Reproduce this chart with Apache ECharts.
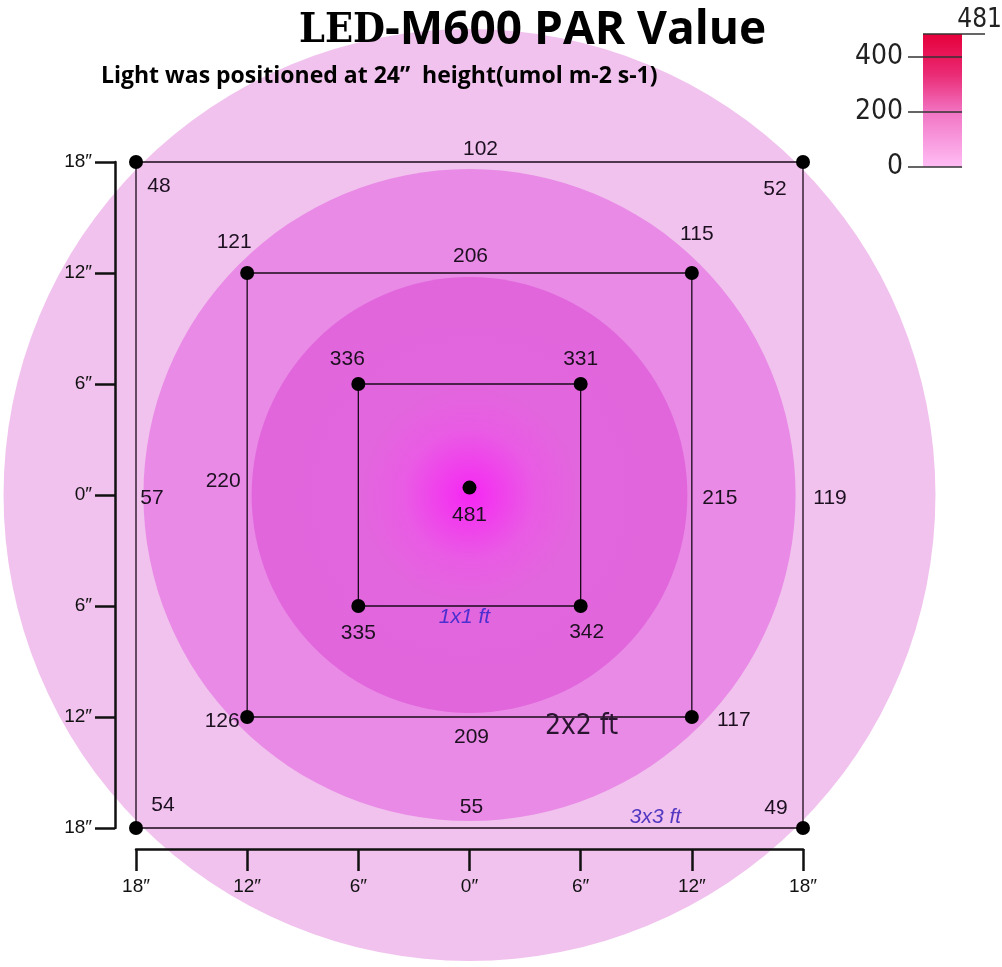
<!DOCTYPE html>
<html>
<head>
<meta charset="utf-8">
<script src="https://cdn.jsdelivr.net/npm/echarts@6/dist/echarts.min.js"></script>
<style>
	html, body { margin: 0; padding: 0; background: #fff; }
	#chart { width: 1002px; height: 967px; }
</style>
</head>
<body>
<div id="chart"></div>
<script>
// 数据 (inches / umol m-2 s-1)
const squareHalf = [6, 12, 18];
const squareNames = ['1x1 ft', '2x2 ft', '3x3 ft'];
// corner readings: TL, TR, BL, BR
const cornerPar = [
	[336, 331, 335, 342],
	[121, 115, 126, 117],
	[48, 52, 54, 49],
];
// edge readings: top, left, right, bottom
const edgePar = [
	[],
	[206, 220, 215, 209],
	[102, 57, 119, 55],
];
const centerPar = 481;
const centerPos = [0, 0.4];
const circleRadius = [25.15, 17.6, 11.76];
const barTicks = [0, 200, 400];
const barMax = 481;

// 样式
const narrowFont = "'DejaVu Sans Condensed', 'Liberation Sans', sans-serif";
const cornerSign = [[-1, 1], [1, 1], [-1, -1], [1, -1]];
const edgeSign = [[0, 1], [-1, 0], [1, 0], [0, -1]];
const cornerOffset = [
	[[-11, -25], [0, -25], [0, 27], [6, 26]],
	[[-13, -31], [5, -39], [-25, 4], [42, 3]],
	[[23, 24], [-28, 27], [27, -23], [-27, -20]],
];
const edgeOffset = [
	[],
	[[1, -17], [-24, -14], [28, 3], [2, 20]],
	[[11, -13], [16, 3], [27, 3], [2, -21]],
];
const nameOffset = [[-5, 11], [112, 10], [186, -11]];
const nameStyle = [
	{ fontSize: 21, fontStyle: 'italic', color: '#4b2fd0', fontFamily: 'Liberation Sans' },
	{ fontSize: 28, color: '#2a1530', fontFamily: narrowFont },
	{ fontSize: 21, fontStyle: 'italic', color: '#5238c0', fontFamily: 'Liberation Sans' },
];
const circleFill = [
	'#f1c2ee',
	'#e98ae6',
	new echarts.graphic.RadialGradient(0.5, 0.5, 0.5, [
		{ offset: 0, color: '#f626f4' },
		{ offset: 0.12, color: '#f13ced' },
		{ offset: 0.3, color: '#e95be4' },
		{ offset: 0.5, color: '#e266dd' },
		{ offset: 1, color: '#e166dc' },
	]),
];
const numLabel = { fontSize: 21, color: '#1c1020', fontFamily: 'Liberation Sans' };
const inchAxis = {
	type: 'value',
	min: -18,
	max: 18,
	interval: 6,
	offset: 21,
	z: 10,
	axisLine: { show: true, onZero: false, lineStyle: { color: '#111', width: 2.5 } },
	splitLine: { show: false },
};

// 组装数据
const dotData = [];
const edgeData = [];
squareHalf.forEach((h, i) => {
	cornerSign.forEach((s, k) => {
		dotData.push({
			value: [s[0] * h, s[1] * h, cornerPar[i][k]],
			label: { offset: cornerOffset[i][k] },
		});
	});
	edgePar[i].forEach((v, k) => {
		edgeData.push({
			value: [edgeSign[k][0] * h, edgeSign[k][1] * h, v],
			label: { offset: edgeOffset[i][k] },
		});
	});
});
dotData.push({ value: [centerPos[0], centerPos[1], centerPar], label: { offset: [0, 28] } });

const nameData = squareHalf.map((h, i) => ({
	value: [0, -h, squareNames[i]],
	label: Object.assign({ offset: nameOffset[i] }, nameStyle[i]),
}));

const myChart = echarts.init(document.getElementById('chart'));
const option = {
	animation: false,
	backgroundColor: '#fff',
	title: [
		{
			text: '{a|LED}{b|-M600 PAR Value}',
			left: 294,
			top: 3,
			textStyle: {
				rich: {
					a: { fontFamily: "'DejaVu Serif Condensed', 'Liberation Serif', serif", fontWeight: 'bold', fontSize: 41, color: '#000' },
					b: { fontFamily: 'Open Sans', fontWeight: 'bold', fontSize: 46, color: '#000' },
				},
			},
		},
		{
			text: 'Light was positioned at 24”  height(umol m-2 s-1)',
			left: 96,
			top: 60,
			textStyle: { fontFamily: 'Open Sans', fontWeight: 'bold', fontSize: 23, color: '#000' },
		},
	],
	grid: [
		{ left: 136, top: 162, width: 667, height: 666 },
		{ left: 923, top: 34, width: 39, height: 133 },
		{ left: 923, top: 34, width: 62, height: 133 },
	],
	xAxis: [
		Object.assign({}, inchAxis, {
			position: 'bottom',
			axisTick: { show: true, length: 22, lineStyle: { color: '#111', width: 2.5 } },
			axisLabel: { margin: 28, fontSize: 19, color: '#111', fontFamily: 'Liberation Sans', formatter: (v) => Math.abs(v) + '″' },
		}),
		{ type: 'category', gridIndex: 1, data: ['PAR'], show: false },
		{ type: 'value', gridIndex: 2, min: 0, max: 1, show: false },
	],
	yAxis: [
		Object.assign({}, inchAxis, {
			position: 'left',
			axisTick: { show: true, length: 20, lineStyle: { color: '#111', width: 2.5 } },
			axisLabel: { margin: 23, fontSize: 19, color: '#111', fontFamily: 'Liberation Sans', formatter: (v) => Math.abs(v) + '″' },
		}),
		{
			type: 'value',
			gridIndex: 1,
			min: 0,
			max: barMax,
			interval: 200,
			position: 'left',
			z: 10,
			axisLine: { show: false },
			axisTick: { show: true, length: 15, customValues: barTicks, lineStyle: { color: '#333', width: 1.5 } },
			axisLabel: { customValues: barTicks, margin: 20, fontSize: 28, color: '#222', fontFamily: narrowFont },
			splitLine: { show: true, lineStyle: { color: '#333', width: 1.5 } },
		},
		{ type: 'value', gridIndex: 2, min: 0, max: barMax, show: false },
	],
	series: [
		// 同心圆
		{
			type: 'custom',
			clip: false,
			silent: true,
			z: 1,
			data: circleRadius.map((r) => [0, 0, r]),
			renderItem: (params, api) => {
				const c = api.coord([api.value(0), api.value(1)]);
				const r = api.size([api.value(2), 0])[0];
				return { type: 'circle', shape: { cx: c[0], cy: c[1], r: r }, style: { fill: circleFill[params.dataIndex] } };
			},
		},
		// 方框
		{
			type: 'custom',
			clip: false,
			silent: true,
			z: 2,
			data: squareHalf.map((h) => [-h, h, h]),
			renderItem: (params, api) => {
				const p0 = api.coord([api.value(0), api.value(1)]);
				const p1 = api.coord([api.value(2), -api.value(1)]);
				return {
					type: 'rect',
					shape: { x: p0[0], y: p0[1], width: p1[0] - p0[0], height: p1[1] - p0[1] },
					style: { fill: 'none', stroke: '#1a0a1a', lineWidth: 1.3 },
				};
			},
		},
		// 测量点
		{
			type: 'scatter',
			z: 3,
			symbolSize: 14,
			itemStyle: { color: '#000', opacity: 1 },
			label: Object.assign({ show: true, position: 'inside', formatter: (p) => p.value[2] }, numLabel),
			data: dotData,
		},
		// 边中点数值
		{
			type: 'scatter',
			z: 4,
			symbolSize: 0,
			itemStyle: { opacity: 1 },
			label: Object.assign({ show: true, position: 'inside', formatter: (p) => p.value[2] }, numLabel),
			data: edgeData,
		},
		// 尺寸标注
		{
			type: 'scatter',
			z: 4,
			symbolSize: 0,
			itemStyle: { opacity: 1 },
			label: { show: true, position: 'inside', formatter: (p) => p.value[2] },
			data: nameData,
		},
		// 色条
		{
			type: 'bar',
			xAxisIndex: 1,
			yAxisIndex: 1,
			z: 1,
			barWidth: '100%',
			data: [barMax],
			itemStyle: {
				color: new echarts.graphic.LinearGradient(0, 0, 0, 1, [
					{ offset: 0, color: '#e6003a' },
					{ offset: 0.3, color: '#ea2a74' },
					{ offset: 0.6, color: '#f277c6' },
					{ offset: 1, color: '#ffbdf5' },
				]),
			},
		},
		// 色条最大值
		{
			type: 'line',
			xAxisIndex: 2,
			yAxisIndex: 2,
			data: [],
			markLine: {
				silent: true,
				symbol: 'none',
				lineStyle: { color: '#333', width: 1.5, type: 'solid' },
				label: {
					position: 'insideEndTop',
					formatter: String(barMax),
					fontSize: 26,
					color: '#222',
					fontFamily: narrowFont,
					offset: [22, 4],
				},
				data: [{ yAxis: barMax }],
			},
		},
	],
};
myChart.setOption(option);
window.addEventListener('resize', () => myChart.resize());
</script>
</body>
</html>
